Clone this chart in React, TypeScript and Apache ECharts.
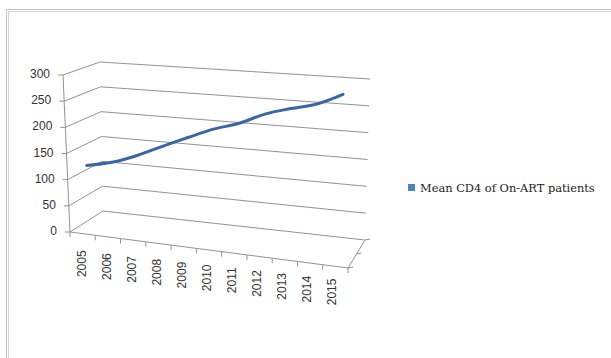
import React, { useEffect, useRef } from "react";
import * as echarts from "echarts";

// Chart data
const years = ["2005", "2006", "2007", "2008", "2009", "2010", "2011", "2012", "2013", "2014", "2015"];
const meanCD4 = [123, 134, 152, 174, 195, 215, 230, 251, 265, 277, 298];
const valueTicks = [0, 50, 100, 150, 200, 250, 300];
const seriesName = "Mean CD4 of On-ART patients";

// Screen corners of the 3D plot box (front/back, left/right, bottom/top)
const BOX = {
  flb: [70, 232], flt: [63, 75], frb: [348, 268], frt: [352.5, 98],
  blb: [103, 211], blt: [100, 62], brb: [365, 240], brt: [370, 79],
};
const LINE_DEPTH = 0.2;
const GRID_COLOR = "#929292";
const AXIS_FONT = "Liberation Sans";

type Pt = number[];
const lerp = (a: Pt, b: Pt, t: number): Pt => [a[0] + (b[0] - a[0]) * t, a[1] + (b[1] - a[1]) * t];

// Trilinear mapping of (category, value, depth) in [0,1]^3 onto the box
function project(u: number, v: number, d: number): Pt {
  const f = lerp(lerp(BOX.flb, BOX.frb, u), lerp(BOX.flt, BOX.frt, u), v);
  const b = lerp(lerp(BOX.blb, BOX.brb, u), lerp(BOX.blt, BOX.brt, u), v);
  return lerp(f, b, d);
}

// Normalise a pixel from the hidden cartesian grid into [0,1] box coordinates
function toUnit(cs: any, p: Pt): Pt {
  return [(p[0] - cs.x) / cs.width, (cs.y + cs.height - p[1]) / cs.height];
}

const seg = (a: Pt, b: Pt, color = GRID_COLOR) => ({
  type: "line",
  shape: { x1: a[0], y1: a[1], x2: b[0], y2: b[1] },
  style: { stroke: color, lineWidth: 1 },
  silent: true,
});

export default function App() {
  const ref = useRef<HTMLDivElement>(null);

  useEffect(() => {
    if (!ref.current) return;
    const chart = echarts.init(ref.current, null, { renderer: "svg" });

    const wallsItem = (params: any, api: any) => {
      const cs = params.coordSys;
      const [, v] = toUnit(cs, api.coord([0, api.value(1)]));
      const front = project(0, v, 0);
      const back = project(0, v, 1);
      const backRight = project(1, v, 1);
      return {
        type: "group",
        children: [
          seg(front, back),
          seg(back, backRight),
          seg(front, [front[0] - 5, front[1]]),
          {
            type: "text",
            x: front[0] - 13,
            y: front[1] - 1,
            silent: true,
            style: {
              text: String(api.value(1)),
              align: "right",
              verticalAlign: "middle",
              fontFamily: AXIS_FONT,
              fontSize: 12,
              fill: "#333",
            },
          },
        ],
      };
    };

    const categoryItem = (params: any, api: any) => {
      const cs = params.coordSys;
      const idx = api.value(0);
      const [uc] = toUnit(cs, api.coord([idx, 0]));
      const half = api.size([1, 0])[0] / cs.width / 2;
      const children: any[] = [];
      const tickAt = (u: number) => {
        const p = project(u, 0, 0);
        children.push(seg(p, [p[0], p[1] + 5]));
      };
      tickAt(uc - half);
      if (idx === years.length - 1) tickAt(uc + half);
      const base = project(uc, 0, 0);
      children.push({
        type: "text",
        x: base[0] - 1 - 3 * uc,
        y: base[1] + 17 - 5 * uc,
        rotation: Math.PI / 2,
        silent: true,
        style: {
          text: years[idx],
          align: "right",
          verticalAlign: "middle",
          fontFamily: AXIS_FONT,
          fontSize: 12,
          fill: "#333",
        },
      });
      if (idx === 0) {
        // value axis, floor front edge and floor right edge with its ticks
        children.push(seg(project(0, 0, 0), project(0, 1, 0)));
        children.push(seg(project(0, 0, 0), project(1, 0, 0)));
        children.push(seg(project(1, 0, 0), project(1, 0, 1)));
        [0, 0.5, 1].forEach((d) => {
          const p = project(1, 0, d);
          children.push(seg(p, [p[0] + 5, p[1] - 1]));
        });
      }
      return { type: "group", children };
    };

    const lineItem = (params: any, api: any) => {
      if (params.dataIndex !== 0) return { type: "group", children: [] };
      const cs = params.coordSys;
      const points = meanCD4.map((val, j) => {
        const [u, v] = toUnit(cs, api.coord([j, val]));
        return project(u, v, LINE_DEPTH);
      });
      return {
        type: "polyline",
        shape: { points, smooth: 0.35 },
        style: { stroke: "#3a66a6", lineWidth: 3, fill: "none", lineCap: "round", lineJoin: "round" },
        silent: true,
      };
    };

    chart.setOption({
      animation: false,
      backgroundColor: "#ffffff",
      grid: { left: 100, top: 60, width: 260, height: 160 },
      xAxis: { type: "category", data: years, boundaryGap: true, show: false },
      yAxis: { type: "value", min: 0, max: 300, interval: 50, show: false },
      legend: {
        data: [{ name: seriesName, icon: "rect", itemStyle: { color: "#4f81bd" } }],
        left: 408,
        top: 182,
        padding: 0,
        itemWidth: 7,
        itemHeight: 7,
        selectedMode: false,
        textStyle: { fontFamily: "DejaVu Serif", fontSize: 11.4, color: "#222" },
      },
      graphic: [
        {
          type: "rect",
          silent: true,
          shape: { x: 6.5, y: 9.5, width: 700, height: 400 },
          style: { fill: "none", stroke: "#c2c2c2", lineWidth: 1 },
        },
        {
          type: "rect",
          silent: true,
          shape: { x: 8.5, y: 11.5, width: 700, height: 400 },
          style: { fill: "none", stroke: "#d2d2d2", lineWidth: 1 },
        },
      ],
      series: [
        {
          type: "custom",
          name: "walls",
          renderItem: wallsItem,
          data: valueTicks.map((t) => [0, t]),
          silent: true,
        },
        {
          type: "custom",
          name: "categories",
          renderItem: categoryItem,
          data: years.map((_, i) => [i, 0]),
          silent: true,
        },
        {
          type: "custom",
          name: seriesName,
          renderItem: lineItem,
          data: meanCD4.map((v, i) => [i, v]),
          itemStyle: { color: "#4f81bd" },
          silent: true,
        },
      ],
    });

    return () => chart.dispose();
  }, []);

  return <div ref={ref} style={{ position: "absolute", left: 0, top: 0, width: 611, height: 358 }} />;
}
